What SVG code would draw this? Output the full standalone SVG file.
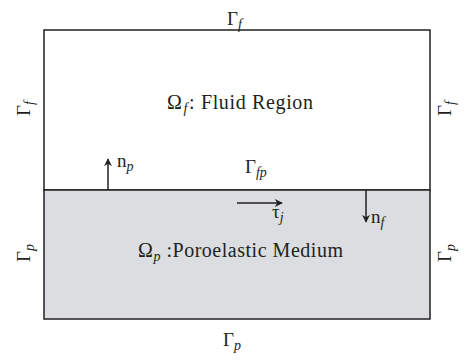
<svg xmlns="http://www.w3.org/2000/svg" width="465" height="362" viewBox="0 0 465 362">
<defs>
<style>
text{font-family:"Liberation Serif","Times New Roman",serif;fill:#231f20;font-size:19px}
.big{font-size:20px}
.sub{font-size:14px;font-style:italic}
.edge{stroke:#231f20;stroke-width:1.5;fill:none}
</style>
<marker id="ah" viewBox="0 0 10 10" refX="9" refY="5" markerWidth="8" markerHeight="8" orient="auto" markerUnits="userSpaceOnUse">
<path d="M0,0 L10,5 L0,10 L3,5 z" fill="#231f20"/>
</marker>
</defs>
<g id="fluid">
<rect x="44" y="30" width="386" height="160" fill="#ffffff" stroke="#231f20" stroke-width="1.5"/>
<text class="big" x="167" y="109" textLength="146" lengthAdjust="spacing">Ω<tspan class="sub" dy="4" dx="1">f</tspan><tspan dy="-4" dx="1">: Fluid Region</tspan></text>
</g>
<g id="poro">
<rect x="44" y="190" width="386" height="129" fill="#dcdde0" stroke="#231f20" stroke-width="1.5"/>
<text class="big" x="138" y="257" textLength="205" lengthAdjust="spacing">Ω<tspan class="sub" dy="4">p</tspan><tspan dy="-4"> :Poroelastic Medium</tspan></text>
</g>
<g id="labels">
<text x="227" y="25">Γ<tspan class="sub" dy="4">f</tspan></text>
<text x="223" y="346">Γ<tspan class="sub" dy="4">p</tspan></text>
<text x="245" y="173">Γ<tspan class="sub" dy="4">fp</tspan></text>
<text transform="translate(30,116) rotate(-90)">Γ<tspan class="sub" dy="4">f</tspan></text>
<text transform="translate(451,116) rotate(-90)">Γ<tspan class="sub" dy="4">f</tspan></text>
<text transform="translate(30,262) rotate(-90)">Γ<tspan class="sub" dy="4">p</tspan></text>
<text transform="translate(451,262) rotate(-90)">Γ<tspan class="sub" dy="4">p</tspan></text>
<text x="117" y="167">n<tspan class="sub" dy="4">p</tspan></text>
<text x="272" y="218">τ<tspan class="sub" dy="4">j</tspan></text>
<text x="371" y="223">n<tspan class="sub" dy="4">f</tspan></text>
</g>
<g id="connectors">
<line class="edge" x1="108" y1="190" x2="108" y2="159" marker-end="url(#ah)"/>
<line class="edge" x1="237" y1="203" x2="282" y2="203" marker-end="url(#ah)"/>
<line class="edge" x1="366" y1="190" x2="366" y2="222" marker-end="url(#ah)"/>
</g>
</svg>
